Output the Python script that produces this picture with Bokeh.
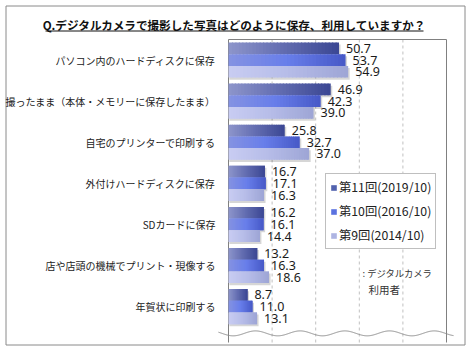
import numpy as np
from bokeh.plotting import figure
from bokeh.models import Range1d, Legend, LegendItem, ColumnDataSource
from bokeh.core.properties import value
from bokeh.embed import file_html
from bokeh.resources import INLINE

title_text = "Q.デジタルカメラで撮影した写真はどのように保存、利用していますか？"
categories = [
    "パソコン内のハードディスクに保存",
    "撮ったまま（本体・メモリーに保存したまま）",
    "自宅のプリンターで印刷する",
    "外付けハードディスクに保存",
    "SDカードに保存",
    "店や店頭の機械でプリント・現像する",
    "年賀状に印刷する",
]
series_names = ["第11回(2019/10)", "第10回(2016/10)", "第9回(2014/10)"]
s11 = [50.7, 46.9, 25.8, 16.7, 16.2, 13.2, 8.7]
s10 = [53.7, 42.3, 32.7, 17.1, 16.1, 16.3, 11.0]
s9 = [54.9, 39.0, 37.0, 16.3, 14.4, 18.6, 13.1]
grid_ticks = [20, 40, 60, 80]
note_lines = [": デジタルカメラ", "利用者"]

series = [s11, s10, s9]
offsets = [-0.285, 0.0, 0.285]
bar_h = 0.285
grads = [
    [(140, 148, 202), (98, 108, 176), (60, 72, 148)],
    [(132, 146, 226), (104, 126, 234), (72, 90, 200)],
    [(200, 204, 242), (182, 188, 232), (158, 166, 214)],
]
legend_colors = ["#5262ae", "#5b72e0", "#aeb4e2"]
JP = "Noto Sans CJK JP"

W, H = 470, 350
# plot area in page pixels: x 228..446 (0..100 %), y 39..342
PX0, PX1, PY0, PY1 = 228.0, 446.0, 39.0, 342.0
SLOT = 41.1
sx = (PX1 - PX0) / 100.0
x_range = Range1d(-PX0 / sx, (W - PX0) / sx)
y_top = -0.5 - PY0 / SLOT
y_bot = -0.5 + (H - PY0) / SLOT
y_range = Range1d(y_bot, y_top)
y_plot_bottom = -0.5 + (PY1 - PY0) / SLOT

p = figure(width=W, height=H, x_range=x_range, y_range=y_range,
           output_backend="svg", toolbar_location=None,
           x_axis_location=None, y_axis_location=None,
           min_border=0, min_border_left=0, min_border_right=0,
           min_border_top=0, min_border_bottom=0)
p.extra_x_ranges = {"px": Range1d(0, W)}
p.extra_y_ranges = {"px": Range1d(H, 0)}
p.background_fill_color = "white"
p.border_fill_color = "white"
p.outline_line_color = None
p.grid.visible = False

# outer frame
p.quad(left=[5.5], right=[W - 5.5], top=[5.5], bottom=[H - 5.5],
       x_range_name="px", y_range_name="px",
       fill_color=None, line_color="#8a8a8a", line_width=1)

# dashed grid lines
p.segment(x0=grid_ticks, x1=grid_ticks, y0=[-0.5] * 4, y1=[y_plot_bottom] * 4,
          line_color="#c0c0c0", line_dash="3 3", line_width=1)
# plot area border (left, right, top)
p.segment(x0=[0, 100, 0], x1=[0, 100, 100], y0=[-0.5, -0.5, -0.5],
          y1=[y_plot_bottom, y_plot_bottom, -0.5], line_color="#808080", line_width=1)


def interp(stops, t):
    if t <= 0.5:
        a, b, u = stops[0], stops[1], t / 0.5
    else:
        a, b, u = stops[1], stops[2], (t - 0.5) / 0.5
    c = [int(round(a[k] + (b[k] - a[k]) * u)) for k in range(3)]
    return "#%02x%02x%02x" % tuple(c)


N = 32
for j, vals in enumerate(series):
    ys = [i + offsets[j] for i in range(len(vals))]
    p.hbar(y=[y + 0.05 for y in ys], left=0.4, right=[v + 0.7 for v in vals], height=bar_h,
           fill_color="#000000", fill_alpha=0.16, line_color=None)
    seg = dict(y=[], left=[], right=[], color=[])
    for y, v in zip(ys, vals):
        for k in range(N):
            seg["y"].append(y)
            seg["left"].append(v * k / N)
            seg["right"].append(min(v, v * (k + 1) / N + 0.5))
            seg["color"].append(interp(grads[j], k / (N - 1)))
    p.hbar(y="y", left="left", right="right", height=bar_h, fill_color="color",
           line_color=None, source=ColumnDataSource(seg))

for j, vals in enumerate(series):
    ys = [i + offsets[j] for i in range(len(vals))]
    p.text(x=vals, y=ys, text=["%.1f" % v for v in vals], x_offset=7,
           text_baseline="middle", text_align="left", text_font=value("Noto Sans"),
           text_font_size="12.5px", text_color="#1a1a1a")

# category labels
p.text(x=[0] * len(categories), y=list(range(len(categories))), text=categories,
       x_offset=-13, text_align="right", text_baseline="middle",
       text_font=value(JP), text_font_size="10px", text_color="#222222")

# axis break wave
wx = np.linspace(-4.6, 103.2, 500)
wy = 6.65 + 0.06 * np.sin(2 * np.pi * (wx + 3) / 20.5)
p.line(wx, wy, line_color="#8c8c8c", line_width=1)

# title + underline
p.text(x=[234], y=[24], text=[title_text], x_range_name="px", y_range_name="px",
       text_align="center", text_baseline="middle", text_font=value(JP),
       text_font_size="11.6px", text_font_style="bold", text_color="#111111")
p.segment(x0=[45], x1=[423], y0=[30.5], y1=[30.5], x_range_name="px", y_range_name="px",
          line_color="#111111", line_width=1)

# note
p.text(x=[362], y=[272], text=[note_lines[0]], x_range_name="px", y_range_name="px",
       text_baseline="middle", text_font=value(JP), text_font_size="9.3px",
       text_color="#333333")
p.text(x=[368], y=[289], text=[note_lines[1]], x_range_name="px", y_range_name="px",
       text_baseline="middle", text_font=value(JP), text_font_size="10.5px",
       text_color="#333333")

items = []
for name, col in zip(series_names, legend_colors):
    # legend swatch renderer (placed outside the visible area)
    r = p.quad(left=[-1000], right=[-999], top=[-1000], bottom=[-999],
               fill_color=col, line_color=None)
    items.append(LegendItem(label=name, renderers=[r]))
legend = Legend(items=items, location=(325, H - 249), glyph_width=7, glyph_height=7,
                label_text_font=JP, label_text_font_size="12.3px", label_height=16,
                label_standoff=2, spacing=6, padding=4, margin=0,
                border_line_color="#808080", border_line_width=1,
                background_fill_alpha=1, label_text_color="#222222")
p.add_layout(legend)

open("out.html", "w").write(file_html(p, INLINE))
